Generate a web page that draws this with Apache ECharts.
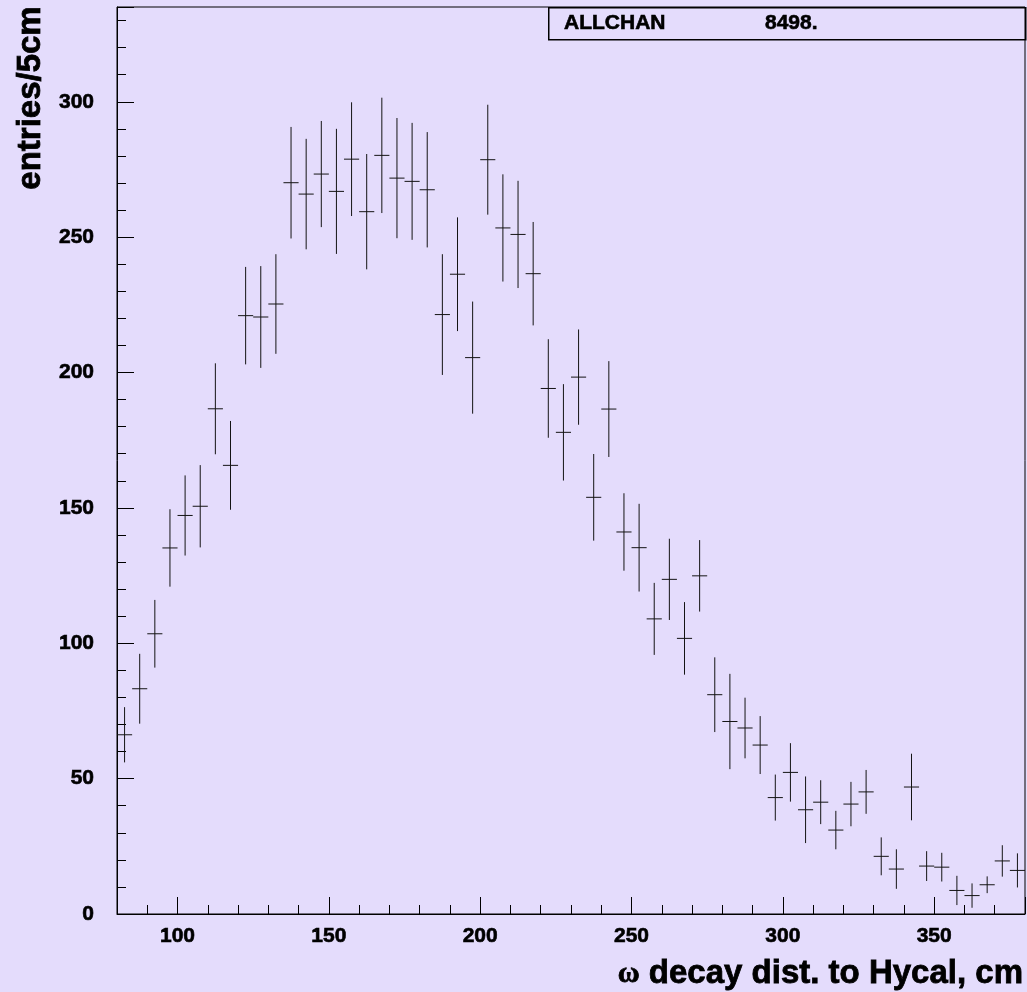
<!DOCTYPE html>
<html>
<head>
<meta charset="utf-8">
<script src="https://cdn.jsdelivr.net/npm/echarts@6/dist/echarts.min.js"></script>
<style>
  html, body { margin: 0; padding: 0; background: #e4dcfc; }
  #chart { width: 1027px; height: 992px; }
</style>
</head>
<body>
<div id="chart"></div>
<script>
// Histogram of omega decay distance to HyCal, 5 cm bins from 80 to 380 cm
const binCenters = [
  82.5, 87.5, 92.5, 97.5, 102.5, 107.5, 112.5, 117.5, 122.5, 127.5,
  132.5, 137.5, 142.5, 147.5, 152.5, 157.5, 162.5, 167.5, 172.5, 177.5,
  182.5, 187.5, 192.5, 197.5, 202.5, 207.5, 212.5, 217.5, 222.5, 227.5,
  232.5, 237.5, 242.5, 247.5, 252.5, 257.5, 262.5, 267.5, 272.5, 277.5,
  282.5, 287.5, 292.5, 297.5, 302.5, 307.5, 312.5, 317.5, 322.5, 327.5,
  332.5, 337.5, 342.5, 347.5, 352.5, 357.5, 362.5, 367.5, 372.5, 377.5
];
const entries = [
  66.2, 83.2, 103.5, 135.2, 147.2, 150.6, 186.6, 165.7, 221.0, 220.5,
  225.3, 270.1, 265.9, 273.3, 266.9, 278.8, 259.4, 280.2, 271.8, 270.6,
  267.5, 221.4, 236.3, 205.5, 278.6, 253.4, 251.0, 236.5, 194.1, 177.9,
  198.3, 153.9, 186.5, 141.1, 135.3, 109.0, 123.6, 101.8, 124.9, 81.0,
  71.1, 68.7, 62.4, 43.0, 52.3, 38.5, 41.3, 31.0, 40.6, 45.1,
  21.3, 16.6, 46.9, 17.7, 17.3, 8.7, 6.8, 10.8, 19.6, 16.1
];
const errors = [
  10.2, 12.9, 12.5, 14.3, 14.8, 15.2, 16.8, 16.4, 18.0, 18.8,
  18.4, 20.6, 20.4, 19.6, 23.1, 21.0, 21.3, 21.3, 22.2, 21.6,
  21.3, 22.3, 21.0, 20.7, 20.3, 19.8, 19.8, 19.1, 18.2, 17.8,
  17.6, 16.0, 17.7, 14.3, 16.2, 13.3, 15.0, 13.4, 13.2, 13.8,
  17.6, 11.2, 10.7, 8.5, 10.8, 12.3, 8.1, 7.1, 8.2, 8.1,
  7.0, 7.3, 12.3, 5.5, 5.3, 5.4, 4.5, 3.1, 5.8, 6.3
];
const binWidth = 5;
const xRange = [80, 380];
const yRange = [0, 335];
const statName = 'ALLCHAN';
const statValue = '8498.';

const points = binCenters.map((x, i) => [x, entries[i], errors[i]]);

const chart = echarts.init(document.getElementById('chart'), null, { renderer: 'canvas' });

const boldFamily = '"Liberation Sans", Arial, sans-serif';
// a thin outline in the fill colour gives the heavy Helvetica look
const heavy = { textBorderColor: '#000', textBorderWidth: 0.6 };
const labelFont = Object.assign({ color: '#000', fontFamily: boldFamily, fontWeight: 'bold', fontSize: 21 }, heavy);

chart.setOption({
  backgroundColor: '#e4dcfc',
  animation: false,
  grid: {
    left: 117, right: 2, top: 7, bottom: 78,
    show: true, borderColor: '#000', borderWidth: 1, backgroundColor: 'transparent'
  },
  xAxis: {
    type: 'value',
    min: xRange[0], max: xRange[1],
    splitNumber: 6,
    axisLine: { show: true, onZero: false, lineStyle: { color: '#000', width: 1 } },
    axisTick: { show: true, inside: true, length: 17, lineStyle: { color: '#000', width: 1 } },
    minorTick: { show: true, splitNumber: 5, length: 9, lineStyle: { color: '#000', width: 1 } },
    splitLine: { show: false },
    axisLabel: Object.assign({ margin: 12, showMinLabel: false, showMaxLabel: false }, labelFont)
  },
  yAxis: {
    type: 'value',
    min: yRange[0], max: yRange[1], interval: 50,
    axisLine: { show: true, lineStyle: { color: '#000', width: 1 } },
    axisTick: { show: true, inside: true, length: 17, lineStyle: { color: '#000', width: 1 } },
    minorTick: { show: true, splitNumber: 5, length: 9, lineStyle: { color: '#000', width: 1 } },
    splitLine: { show: false },
    axisLabel: Object.assign({ margin: 23, showMaxLabel: false, padding: [4, 0, 0, 0] }, labelFont)
  },
  series: [{
    type: 'custom',
    data: points,
    encode: { x: 0, y: 1 },
    clip: true,
    renderItem: function (params, api) {
      const x = api.value(0), y = api.value(1), e = api.value(2);
      const l = api.coord([x - binWidth / 2, y]);
      const r = api.coord([x + binWidth / 2, y]);
      const t = api.coord([x, y + e]);
      const b = api.coord([x, y - e]);
      const style = { stroke: '#141414', lineWidth: 1 };
      return {
        type: 'group',
        children: [
          { type: 'line', shape: { x1: l[0], y1: l[1], x2: r[0], y2: r[1] }, style: style },
          { type: 'line', shape: { x1: t[0], y1: t[1], x2: b[0], y2: b[1] }, style: style }
        ]
      };
    }
  }],
  graphic: [
    // statistics box in the upper right corner
    {
      type: 'rect', left: 548, top: 7, z: 10,
      shape: { width: 477, height: 32 },
      style: { fill: 'transparent', stroke: '#000', lineWidth: 1.5 }
    },
    {
      type: 'text', x: 564, y: 23, z: 11,
      style: Object.assign({ text: statName, fill: '#000', font: 'bold 21px ' + boldFamily, textVerticalAlign: 'middle' }, { stroke: '#000', lineWidth: 0.6 })
    },
    {
      type: 'text', x: 765, y: 23, z: 11,
      style: Object.assign({ text: statValue, fill: '#000', font: 'bold 21px ' + boldFamily, textVerticalAlign: 'middle' }, { stroke: '#000', lineWidth: 0.6 })
    },
    // y axis title, reading bottom to top
    {
      type: 'text', x: 31, y: 98, rotation: Math.PI / 2, z: 11,
      style: {
        text: 'entries/5cm', fill: '#000', stroke: '#000', lineWidth: 0.8,
        font: 'bold 33px ' + boldFamily,
        textAlign: 'center', textVerticalAlign: 'middle'
      }
    },
    // x axis title
    {
      type: 'text', x: 1023, y: 974, z: 11,
      style: {
        text: '{w|ω} decay dist. to Hycal, cm',
        fill: '#000', stroke: '#000', lineWidth: 0.8,
        font: 'bold 33px ' + boldFamily,
        textAlign: 'right', textVerticalAlign: 'middle',
        rich: {
          w: { fontFamily: '"Liberation Serif", "DejaVu Serif", serif', fontWeight: 'bold', fontSize: 30, fill: '#000' }
        }
      }
    }
  ]
});
</script>
</body>
</html>
